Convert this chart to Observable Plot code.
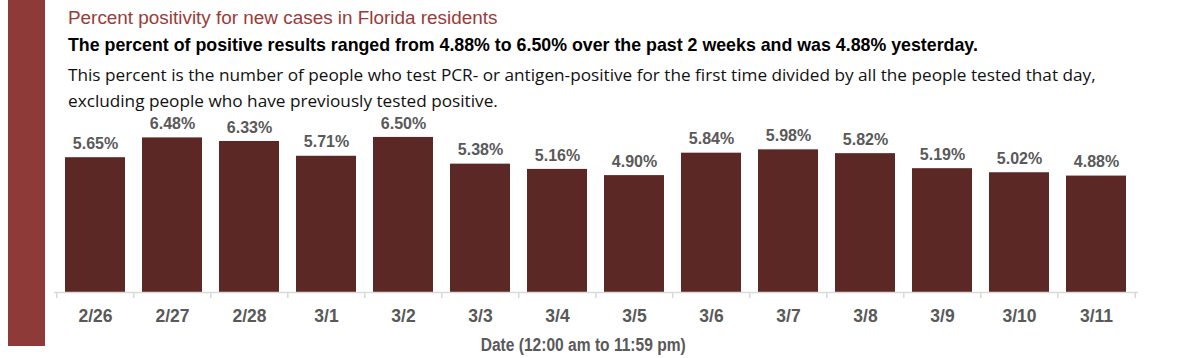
<!DOCTYPE html>
<html>
<head>
<meta charset="utf-8">
<script src="https://cdn.jsdelivr.net/npm/d3@7"></script>
<script src="https://cdn.jsdelivr.net/npm/@observablehq/plot@0.6"></script>
<style>
  html, body { margin: 0; padding: 0; background: #fff; width: 1200px; height: 358px; overflow: hidden; }
  #wrap { position: relative; width: 1200px; height: 358px; font-family: "Liberation Sans", Arial, sans-serif; }
  #sidebar { position: absolute; left: 8px; top: 0; width: 37px; height: 346px; background: #8d3a39; }
  .t { position: absolute; left: 68px; white-space: nowrap; line-height: 1; }
  #title { top: 9px; font-size: 18.9px; color: #9a3b38; }
  #sub { top: 37px; font-size: 17.8px; font-weight: bold; color: #000; }
  #desc { top: 62px; font-size: 17.2px; color: #111; line-height: 26px; font-family: "Open Sans", "Liberation Sans", sans-serif; }
  #chart { position: absolute; left: 0; top: 110px; }
</style>
</head>
<body>
<div id="wrap">
  <div id="sidebar"></div>
  <div class="t" id="title">Percent positivity for new cases in Florida residents</div>
  <div class="t" id="sub">The percent of positive results ranged from 4.88% to 6.50% over the past 2 weeks and was 4.88% yesterday.</div>
  <div class="t" id="desc">This percent is the number of people who test PCR- or antigen-positive for the first time divided by all the people tested that day,<br>excluding people who have previously tested positive.</div>
  <div id="chart"></div>
</div>
<script>
const dates = ["2/26","2/27","2/28","3/1","3/2","3/3","3/4","3/5","3/6","3/7","3/8","3/9","3/10","3/11"];
const positivity = [5.65, 6.48, 6.33, 5.71, 6.50, 5.38, 5.16, 4.90, 5.84, 5.98, 5.82, 5.19, 5.02, 4.88];
const xTitle = "Date (12:00 am to 11:59 pm)";

const data = dates.map((d, i) => ({date: d, value: positivity[i]}));

const W = 1200, H = 248, ML = 54, MR = 62;
const step = (W - ML - MR) / dates.length;

const chart = Plot.plot({
  width: W,
  height: H,
  marginLeft: ML,
  marginRight: MR,
  marginTop: 15,
  marginBottom: 66,
  style: {fontFamily: "Liberation Sans, Arial, sans-serif", background: "transparent"},
  x: {domain: dates, paddingInner: 0.22, paddingOuter: 0.11, axis: null},
  y: {domain: [0, 7], axis: null},
  marks: [
    Plot.barY(data, {x: "date", y: "value", fill: "#5c2826"}),
    Plot.ruleY([0], {stroke: "#d9d9d9", strokeWidth: 1.5}),
    Plot.ruleX(dates, {x: d => d, y1: 0, y2: 0, dx: -step / 2, insetBottom: -6, stroke: "#d9d9d9", strokeWidth: 1.5}),
    Plot.ruleX([dates[dates.length - 1]], {x: d => d, y1: 0, y2: 0, dx: step / 2, insetBottom: -6, stroke: "#d9d9d9", strokeWidth: 1.5}),
    Plot.text(data, {x: "date", y: "value", text: d => d.value.toFixed(2) + "%", dy: -14, fill: "#595959", fontSize: 16, fontWeight: "bold"}),
    Plot.text(data, {x: "date", y: 0, text: "date", dy: 24, fill: "#595959", fontSize: 17.5, fontWeight: "bold"}),
    Plot.text([xTitle], {x: () => dates[6], y: () => 0, text: d => d, dx: step / 2 - 13, dy: 53, fill: "#595959", fontSize: 17.5, fontWeight: "bold"})
  ]
});
// condense the axis title to match the narrow face of the original
d3.select(chart).selectAll("text").filter(function() { return this.textContent === xTitle; })
  .attr("textLength", 205).attr("lengthAdjust", "spacingAndGlyphs");
document.getElementById("chart").appendChild(chart);
</script>
</body>
</html>
